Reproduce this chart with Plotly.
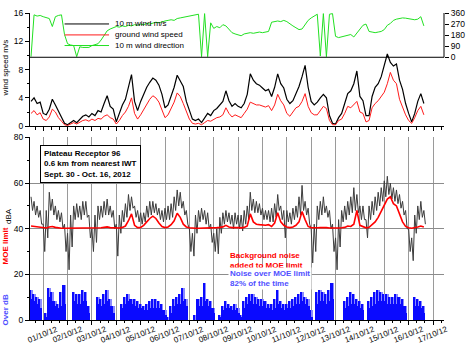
import pandas as pd
import plotly.graph_objects as go

# ---------------- data (3-hourly readings, 2012-09-30 12:00 .. 2012-10-16 15:00) ----------------
start_time = "2012-09-30 12:00"

wind10 = [3.5, 4.0, 3.2, 3.4,
          1.8, 1.6, 2.4, 3.8, 3.0, 2.2, 1.2, 0.4,
          0.2, 0.5, 0.8, 0.5, 1.0, 1.4, 1.6, 1.3,
          1.8, 1.5, 2.2, 2.0, 3.2, 4.3, 2.8, 2.4,
          0.6, 1.8, 3.0, 3.8, 5.5, 7.3, 3.5, 2.2,
          3.5, 4.5, 5.5, 6.2, 6.8, 6.5, 5.8, 4.5,
          2.6, 3.0, 4.2, 5.5, 7.2, 6.4, 5.6, 3.5,
          2.3, 1.0, 0.8, 1.0, 0.5, 1.2, 1.8, 1.5,
          2.2, 2.5, 3.0, 3.5, 5.0, 3.6, 2.8, 3.2,
          2.8, 2.6, 3.2, 4.5, 7.4, 6.5, 6.0, 5.8,
          5.4, 5.0, 5.2, 4.2, 5.5, 7.4, 6.0, 5.4,
          3.8, 3.2, 3.6, 4.5, 5.6, 7.0, 8.6, 5.5,
          3.5, 3.0, 3.4, 4.0, 4.5, 4.0, 1.5, 0.4,
          0.3, 1.2, 1.8, 3.2, 4.6, 5.0, 6.0, 7.8,
          4.2, 3.6, 1.5, 1.5, 4.2, 5.5, 6.0, 7.0,
          8.8, 10.2, 9.0, 8.5, 8.8, 6.5, 5.2, 3.2,
          1.8, 0.6, 1.8, 3.5, 4.6, 3.2]

ground_wind = [1.8, 2.2, 1.6, 1.9,
               1.0, 0.8, 1.3, 2.4, 2.0, 1.2, 0.7, 0.2,
               0.1, 0.3, 0.5, 0.3, 0.6, 0.8, 0.9, 0.7,
               1.0, 0.8, 1.1, 1.0, 1.4, 1.6, 1.2, 1.0,
               0.3, 0.8, 1.5, 2.0, 2.8, 4.0, 1.8, 1.0,
               1.6, 2.4, 3.2, 3.8, 4.3, 4.0, 3.4, 2.4,
               1.2, 1.6, 2.6, 3.4, 4.7, 4.2, 3.2, 2.0,
               1.0, 0.4, 0.3, 0.4, 0.2, 0.5, 0.8, 0.7,
               1.0, 1.2, 1.3, 1.6, 2.6, 1.8, 1.3, 1.6,
               1.4, 1.2, 1.8, 2.4, 3.4, 3.2, 3.0, 3.0,
               2.9, 2.7, 2.9, 2.2, 3.0, 4.5, 3.6, 3.0,
               1.8, 1.4, 2.0, 2.6, 2.8, 3.5, 4.6, 2.8,
               1.9, 1.6, 1.6, 2.3, 2.8, 2.5, 0.8, 0.2,
               0.2, 0.8, 1.0, 1.8, 2.8, 2.6, 3.0, 3.5,
               2.0, 1.8, 0.6, 0.8, 2.6, 3.2, 3.6, 4.2,
               4.8, 6.0, 7.6, 6.5, 6.0, 3.8, 2.6, 1.6,
               0.8, 0.4, 1.2, 2.2, 2.8, 1.6]

wind_dir = [5, 345, 335, 340,
            330, 325, 315, 250, 330, 340, 345, 185,
            110, 100, 95, 5, 85, 80, 78, 80,
            95, 105, 110, 140, 175, 215, 230, 240,
            250, 245, 255, 250, 260, 255, 265, 260,
            270, 265, 275, 270, 280, 285, 280, 290,
            295, 300, 305, 300, 315, 320, 325, 330,
            335, 340, 345, 350, 5, 355, 5, 280,
            235, 250, 240, 265, 255, 225, 200, 190,
            185, 175, 190, 195, 200, 195, 200, 205,
            200, 205, 210, 285, 290, 295, 290, 300,
            290, 270, 255, 240, 225, 230, 270, 300,
            320, 335, 350, 10, 355, 5, 350, 355,
            170, 160, 165, 170, 180, 185, 165, 200,
            235, 260, 270, 210, 205, 200, 205, 210,
            225, 260, 275, 300, 310, 315, 320, 318,
            312, 308, 305, 310, 330, 255]

dba_high = [54, 52, 50, 48,
            42, 48, 56, 53, 50, 48, 47, 42,
            38, 46, 50, 51, 50, 52, 52, 46,
            40, 46, 50, 50, 52, 53, 50, 48,
            42, 46, 48, 51, 55, 54, 50, 48,
            47, 47, 50, 52, 52, 51, 49, 48,
            49, 50, 51, 54, 57, 56, 52, 48,
            40, 38, 46, 48, 49, 48, 47, 42,
            38, 40, 45, 47, 48, 47, 46, 47,
            46, 46, 48, 50, 56, 53, 52, 51,
            49, 48, 48, 49, 51, 55, 50, 48,
            48, 47, 49, 50, 54, 59, 52, 49,
            40, 42, 50, 52, 54, 50, 48, 42,
            36, 44, 48, 50, 52, 54, 58, 55,
            50, 50, 44, 50, 52, 54, 56, 58,
            61, 63, 60, 58, 57, 55, 52, 48,
            40, 36, 46, 50, 52, 48]

dba_low = [48, 46, 45, 42,
           30, 36, 48, 46, 44, 43, 40, 30,
           22, 32, 44, 45, 44, 46, 45, 36,
           30, 34, 44, 45, 46, 46, 45, 40,
           28, 38, 43, 45, 48, 49, 45, 43,
           42, 43, 45, 46, 47, 46, 44, 43,
           44, 44, 45, 48, 50, 49, 46, 42,
           30, 28, 38, 43, 44, 42, 40, 34,
           30, 29, 38, 42, 43, 42, 40, 42,
           40, 39, 42, 44, 48, 47, 47, 46,
           44, 44, 43, 43, 45, 48, 44, 36,
           43, 42, 44, 45, 46, 48, 46, 42,
           25, 30, 44, 46, 47, 45, 40, 30,
           22, 32, 43, 44, 46, 47, 48, 47,
           44, 44, 36, 44, 46, 48, 50, 52,
           54, 55, 53, 52, 51, 49, 46, 40,
           30, 26, 38, 44, 45, 42]

moe_limit = [41.2, 41.0, 40.8, 40.8,
             40.4, 40.3, 40.8, 41.0, 40.6, 40.3, 40.2, 40.2,
             40.2, 40.2, 40.2, 40.2, 40.3, 40.4, 40.4, 40.3,
             40.3, 40.2, 40.4, 40.4, 40.6, 40.8, 40.5, 40.4,
             40.2, 40.3, 40.6, 41.2, 43.5, 46.5, 41.5, 40.5,
             40.6, 41.5, 43.0, 44.5, 45.5, 44.5, 42.5, 41.0,
             40.5, 40.8, 41.8, 43.5, 46.8, 45.0, 42.0, 40.8,
             40.4, 40.2, 40.2, 40.2, 40.2, 40.3, 40.4, 40.3,
             40.4, 40.5, 40.6, 40.8, 41.5, 40.8, 40.5, 40.6,
             40.5, 40.4, 40.6, 41.2, 46.5, 43.0, 42.0, 41.8,
             41.6, 41.5, 41.8, 41.0, 42.5, 47.0, 43.0, 41.5,
             40.8, 40.5, 40.8, 41.5, 43.0, 47.5, 44.0, 41.0,
             40.4, 40.3, 40.4, 40.5, 40.6, 40.5, 40.3, 40.2,
             40.2, 40.3, 40.4, 40.6, 41.2, 41.0, 42.0, 48.0,
             41.5, 41.0, 40.4, 40.6, 42.0, 43.0, 45.0, 47.5,
             50.0, 53.0, 54.0, 51.0, 50.0, 46.0, 43.0, 41.0,
             40.4, 40.2, 40.4, 40.8, 41.2, 40.8]

over_high = [13, 11, 10, 9,
             0, 3, 14, 12, 8, 7, 12, 15,
             0, 0, 12, 11, 11, 13, 12, 6,
             0, 0, 10, 9, 11, 13, 9, 6,
             0, 0, 7, 10, 11, 9, 9, 8,
             7, 6, 7, 8, 9, 9, 8, 7,
             4, 1, 6, 9, 10, 11, 14, 9,
             0, 0, 2, 9, 10, 16, 9, 8,
             5, 0, 2, 6, 8, 7, 6, 7,
             5, 2, 8, 10, 11, 11, 10, 9,
             9, 8, 7, 7, 9, 13, 8, 7,
             7, 8, 9, 10, 11, 12, 10, 9,
             4, 0, 12, 13, 12, 11, 13, 16,
             0, 0, 0, 8, 10, 12, 11, 9,
             8, 7, 0, 8, 10, 12, 13, 12,
             11, 11, 10, 10, 11, 10, 9, 6,
             0, 0, 10, 9, 8, 6]

over_low = [9, 8, 7, 5,
            0, 1, 10, 8, 6, 5, 6, 7,
            0, 0, 8, 7, 7, 8, 8, 3,
            0, 0, 7, 6, 7, 8, 6, 3,
            0, 0, 5, 7, 8, 7, 6, 5,
            5, 4, 4, 5, 5, 5, 5, 4,
            2, 0, 3, 6, 7, 7, 8, 6,
            0, 0, 0, 6, 6, 8, 6, 5,
            3, 0, 1, 4, 5, 5, 4, 4,
            3, 1, 5, 7, 8, 7, 7, 6,
            6, 5, 5, 4, 5, 7, 5, 4,
            5, 5, 6, 7, 7, 8, 7, 6,
            1, 0, 7, 8, 8, 7, 8, 9,
            0, 0, 0, 5, 6, 7, 7, 6,
            5, 4, 0, 5, 6, 7, 8, 8,
            8, 7, 7, 7, 7, 7, 6, 3,
            0, 0, 6, 6, 5, 3]

day_labels = ["01/10/12", "02/10/12", "03/10/12", "04/10/12", "05/10/12", "06/10/12",
              "07/10/12", "08/10/12", "09/10/12", "10/10/12", "11/10/12", "12/10/12",
              "13/10/12", "14/10/12", "15/10/12", "16/10/12", "17/10/12"]
day_dates = pd.date_range("2012-10-01", periods=len(day_labels), freq="D")

# ---------------- figure ----------------
FONT = "Liberation Sans, Arial, Helvetica, sans-serif"
times = pd.date_range(start_time, periods=len(wind10), freq="3h")
half = pd.Timedelta(hours=1.5)
quarter = pd.Timedelta(minutes=45)
x_range = ["2012-09-30 11:00", "2012-10-17 10:50"]

def px_x(p):
    return (p - 30) / 419.0

def px_y(p):
    return (320 - p) / 312.0

fig = go.Figure()

# Over-limit bars: light envelope behind, solid spikes in front (high/low halves of each slot)
bar_w = 3 * 3600 * 1000
fig.add_trace(go.Bar(x=times, y=over_high, width=bar_w, marker=dict(color="#8a8aff", line=dict(width=0)),
                     xaxis="x", yaxis="y"))
bx, by = [], []
for t, h, l in zip(times, over_high, over_low):
    bx += [t - quarter, t + quarter]
    by += [h, l]
fig.add_trace(go.Bar(x=bx, y=by, width=bar_w / 2, marker=dict(color="#0a0aff", line=dict(width=0)),
                     xaxis="x", yaxis="y"))

zx, zy = [], []
for t, h, l in zip(times, dba_high, dba_low):
    zx += [t, t + half]
    zy += [h, l]
fig.add_trace(go.Scatter(x=zx, y=zy, mode="lines", line=dict(color="#3c3c3c", width=1),
                         xaxis="x", yaxis="y"))
fig.add_trace(go.Scatter(x=times, y=moe_limit, mode="lines", line=dict(color="#ff0000", width=1.6),
                         xaxis="x", yaxis="y"))

fig.add_trace(go.Scatter(x=times, y=wind_dir, mode="lines", line=dict(color="#22e022", width=1),
                         xaxis="x2", yaxis="y3"))
fig.add_trace(go.Scatter(x=times, y=wind10, mode="lines", line=dict(color="black", width=1.2),
                         xaxis="x2", yaxis="y2"))
fig.add_trace(go.Scatter(x=times, y=ground_wind, mode="lines", line=dict(color="#ff1a1a", width=1),
                         xaxis="x2", yaxis="y2"))

tickfont = dict(family=FONT, size=8.5, color="black")
day_ms = 86400000
h8 = 8 * 3600 * 1000

fig.update_layout(
    width=473, height=352,
    margin=dict(l=30, r=24, t=8, b=32),
    paper_bgcolor="white", plot_bgcolor="white",
    showlegend=False, barmode="overlay", bargap=0,
    font=dict(family=FONT, size=8.5, color="black"),
    xaxis=dict(domain=[0, 1], anchor="y", type="date", range=x_range,
               tick0="2012-10-01", dtick=day_ms, showticklabels=False,
               ticks="outside", ticklen=4, tickcolor="black",
               showgrid=True, gridcolor="#9a9a9a", gridwidth=1,
               showline=True, linecolor="black", linewidth=1, zeroline=False,
               minor=dict(dtick=h8, tick0="2012-10-01", ticks="outside", ticklen=2,
                          tickcolor="black", showgrid=False)),
    xaxis2=dict(domain=[0, 1], anchor="y2", type="date", matches="x",
                tick0="2012-10-01", dtick=day_ms, showticklabels=False,
                ticks="outside", ticklen=4, tickcolor="black", showgrid=False,
                showline=True, linecolor="black", linewidth=1, zeroline=False,
                minor=dict(dtick=h8, tick0="2012-10-01", ticks="outside", ticklen=3,
                           tickcolor="black", showgrid=False)),
    yaxis=dict(domain=[0, px_y(134.5)], range=[0, 80], tickvals=[0, 20, 40, 60, 80],
               ticks="outside", ticklen=4, tickcolor="black", tickfont=tickfont,
               showgrid=True, gridcolor="#8c8c8c", gridwidth=1,
               showline=True, linecolor="black", linewidth=1, zeroline=False,
               minor=dict(dtick=10, ticks="outside", ticklen=2, tickcolor="black", showgrid=False)),
    yaxis2=dict(domain=[px_y(123), 1], range=[0, 16], tickvals=[0, 4, 8, 12, 16],
                ticks="outside", ticklen=4, tickcolor="black", tickfont=tickfont,
                showgrid=False, showline=True, linecolor="black", linewidth=1, zeroline=False,
                minor=dict(dtick=2, ticks="outside", ticklen=2, tickcolor="black", showgrid=False)),
    yaxis3=dict(overlaying="y2", side="right", anchor="x2", range=[-560, 360],
                tickvals=[0, 90, 180, 270, 360], ticks="outside", ticklen=4, tickcolor="black",
                tickfont=tickfont, showgrid=False, showline=False, zeroline=False),
)

shapes = [
    dict(type="line", xref="paper", yref="y3", x0=0, x1=1, y0=0, y1=0,
         line=dict(color="black", width=1)),
    dict(type="line", xref="paper", yref="y3", x0=1, x1=1, y0=0, y1=360,
         line=dict(color="black", width=1)),
    dict(type="line", xref="paper", yref="y2", x0=px_x(65), x1=px_x(110), y0=14.45, y1=14.45,
         line=dict(color="black", width=1)),
    dict(type="line", xref="paper", yref="y2", x0=px_x(65), x1=px_x(110), y0=12.9, y1=12.9,
         line=dict(color="#ff1a1a", width=1)),
    dict(type="line", xref="paper", yref="y2", x0=px_x(65), x1=px_x(110), y0=11.4, y1=11.4,
         line=dict(color="#22e022", width=1)),
]
fig.update_layout(shapes=shapes)

ann = []
leg_items = [("10 m wind m/s", 14.45), ("ground wind speed", 12.9), ("10 m wind direction", 11.4)]
for txt, yy in leg_items:
    ann.append(dict(text=txt, xref="paper", yref="y2", x=px_x(114), y=yy, xanchor="left",
                    yanchor="middle", showarrow=False, font=dict(family=FONT, size=8, color="black")))

for d, lab in zip(day_dates, day_labels):
    ann.append(dict(text=lab, xref="x", yref="paper", x=d, y=px_y(335), xanchor="center",
                    yanchor="middle", textangle=-22, showarrow=False,
                    font=dict(family=FONT, size=8, color="black")))

ann.append(dict(text="<b>Plateau Receptor 96<br>0.6 km from nearest IWT<br>Sept. 30 - Oct. 16, 2012</b>",
                xref="paper", yref="paper", x=px_x(40.5), y=px_y(142.5), xanchor="left", yanchor="top",
                align="left", showarrow=False, bgcolor="white", bordercolor="black", borderwidth=1,
                borderpad=3, font=dict(family=FONT, size=8, color="black")))
ann.append(dict(text="<b>Background noise<br>added to MOE limit</b>", xref="paper", yref="paper",
                x=px_x(230), y=px_y(259.5), xanchor="left", yanchor="middle", align="left",
                showarrow=False, font=dict(family=FONT, size=8, color="#ff0000")))
ann.append(dict(text="<b>Noise over MOE limit<br>82% of the time</b>", xref="paper", yref="paper",
                x=px_x(230), y=px_y(278), xanchor="left", yanchor="middle", align="left",
                showarrow=False, bgcolor="white", borderpad=1,
                font=dict(family=FONT, size=8, color="#5050ff")))

ann.append(dict(text="wind speed m/s", xref="paper", yref="paper", x=px_x(5), y=px_y(64),
                textangle=-90, showarrow=False, xanchor="center", yanchor="middle",
                font=dict(family=FONT, size=8, color="black")))
ann.append(dict(text="dBA", xref="paper", yref="paper", x=px_x(8), y=px_y(214),
                textangle=-90, showarrow=False, xanchor="center", yanchor="middle",
                font=dict(family=FONT, size=8, color="black")))
ann.append(dict(text="<b>MOE limit</b>", xref="paper", yref="paper", x=px_x(5), y=px_y(245),
                textangle=-90, showarrow=False, xanchor="center", yanchor="middle",
                font=dict(family=FONT, size=8, color="#ff0000")))
ann.append(dict(text="<b>Over dB</b>", xref="paper", yref="paper", x=px_x(5), y=px_y(310),
                textangle=-90, showarrow=False, xanchor="center", yanchor="middle",
                font=dict(family=FONT, size=8, color="#5050ff")))
fig.update_layout(annotations=ann)

fig.write_html("out.html")
